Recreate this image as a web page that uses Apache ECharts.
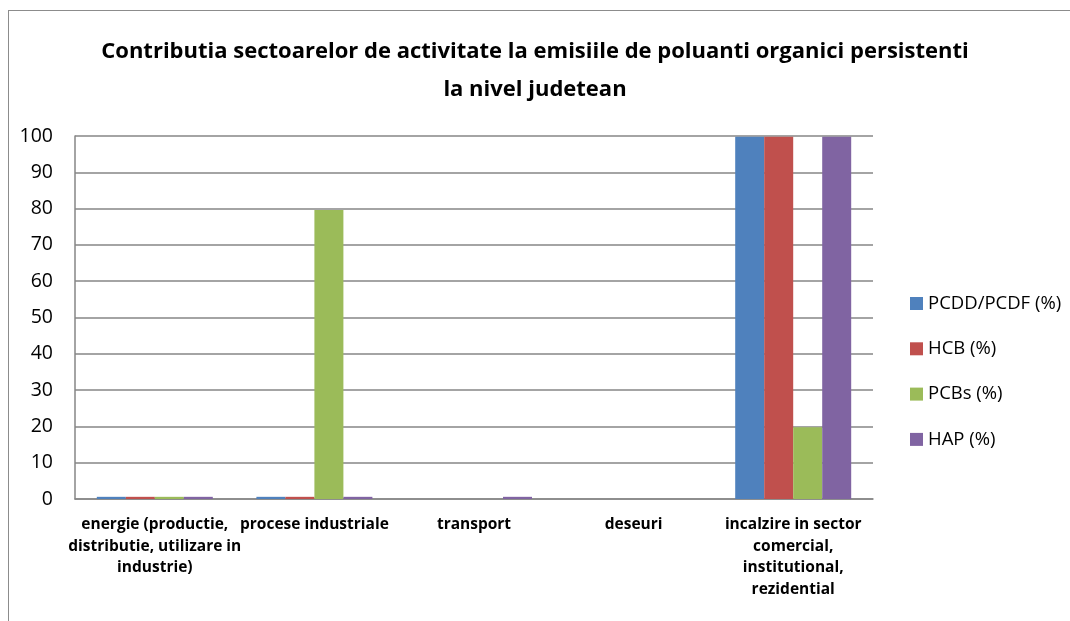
<!DOCTYPE html>
<html>
<head>
<meta charset="utf-8">
<script src="https://cdn.jsdelivr.net/npm/echarts@6/dist/echarts.min.js"></script>
<style>
html,body{margin:0;padding:0;background:#fff;}
#frame{position:absolute;left:8px;top:10px;width:1070px;height:620px;border-left:1px solid #8c8c8c;border-top:1px solid #8c8c8c;}
#chart{position:absolute;left:0;top:0;width:1070px;height:621px;}
</style>
</head>
<body>
<div id="frame"></div>
<div id="chart"></div>
<script>
var titleText = 'Contributia sectoarelor de activitate la emisiile de poluanti organici persistenti\nla nivel judetean';
var categories = [
  'energie (productie,\ndistributie, utilizare in\nindustrie)',
  'procese industriale',
  'transport',
  'deseuri',
  'incalzire in sector\ncomercial,\ninstitutional,\nrezidential'
];
var seriesNames = ['PCDD/PCDF (%)', 'HCB (%)', 'PCBs (%)', 'HAP (%)'];
var pcdd = [0.6, 0.6, 0, 0, 99.8];
var hcb  = [0.6, 0.6, 0, 0, 99.8];
var pcbs = [0.6, 79.6, 0, 0, 19.8];
var hap  = [0.6, 0.6, 0.6, 0, 99.8];
var yTicks = [0, 10, 20, 30, 40, 50, 60, 70, 80, 90, 100];
var colors = ['#4F81BD', '#C0504D', '#9BBB59', '#8064A2'];

var font = "'Open Sans', 'Noto Sans', sans-serif";
var chart = echarts.init(document.getElementById('chart'));
var data = [pcdd, hcb, pcbs, hap];
chart.setOption({
  animation: false,
  backgroundColor: 'transparent',
  color: colors,
  title: {
    text: titleText,
    left: 'center',
    top: 28,
    itemGap: 0,
    textStyle: {fontFamily: font, fontWeight: 'bold', fontSize: 22, color: '#000', lineHeight: 38}
  },
  legend: {
    orient: 'vertical',
    left: 905,
    top: 289,
    itemWidth: 13,
    itemHeight: 13,
    itemGap: 26.3,
    icon: 'rect',
    data: seriesNames,
    textStyle: {fontFamily: font, fontSize: 18.5, color: '#000'}
  },
  grid: {left: 75, right: 197, top: 136, bottom: 122, containLabel: false},
  xAxis: {
    type: 'category',
    data: categories,
    axisLine: {lineStyle: {color: '#868686', width: 1.5}},
    axisTick: {show: false},
    axisLabel: {fontFamily: font, fontWeight: 'bold', fontSize: 15.5, color: '#000', lineHeight: 21.5, margin: 15, interval: 0}
  },
  yAxis: {
    type: 'value',
    min: 0, max: 100, interval: 10,
    axisLine: {show: true, lineStyle: {color: '#868686', width: 1.5}},
    axisTick: {show: false},
    splitLine: {lineStyle: {color: '#868686', width: 1.5}},
    axisLabel: {fontFamily: font, fontSize: 19.5, color: '#000', margin: 22,
      formatter: function (v) { return yTicks.indexOf(v) >= 0 ? String(v) : ''; }}
  },
  series: seriesNames.map(function (n, i) {
    return {
      name: n,
      type: 'bar',
      data: data[i],
      barWidth: 29,
      barGap: '0%',
      itemStyle: {color: colors[i]}
    };
  })
});
</script>
</body>
</html>
